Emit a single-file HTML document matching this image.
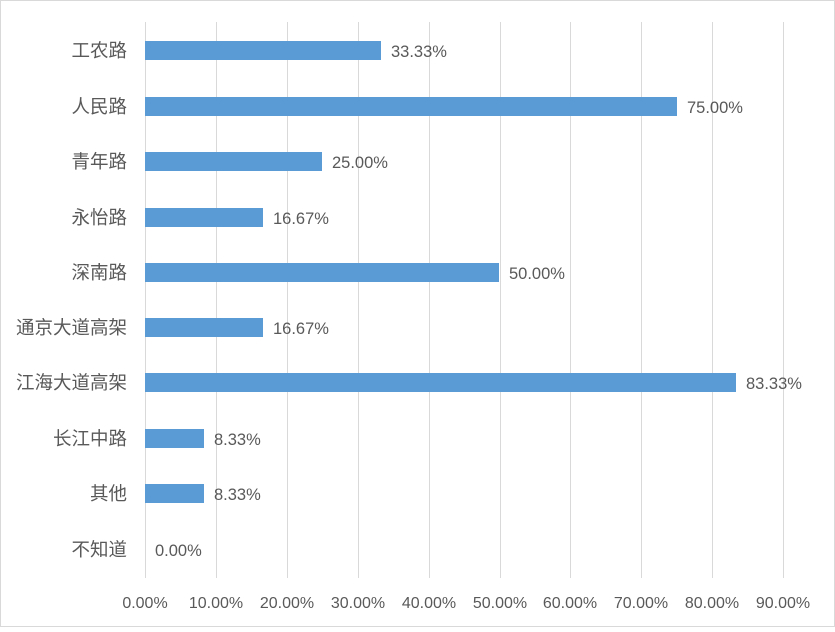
<!DOCTYPE html>
<html><head><meta charset="utf-8"><style>
body{margin:0;background:#fff;}
svg text{font-family:"Liberation Sans","Noto Sans CJK SC",sans-serif;fill:#595959;}
</style></head><body>
<svg width="835" height="627" xmlns="http://www.w3.org/2000/svg">
<rect x="0.5" y="0.5" width="834" height="626" fill="#fff" stroke="#d9d9d9"/>
<g stroke="#d9d9d9" stroke-width="1">
<line x1="145.5" y1="22" x2="145.5" y2="578"/>
<line x1="216.5" y1="22" x2="216.5" y2="578"/>
<line x1="287.5" y1="22" x2="287.5" y2="578"/>
<line x1="358.5" y1="22" x2="358.5" y2="578"/>
<line x1="429.5" y1="22" x2="429.5" y2="578"/>
<line x1="500.5" y1="22" x2="500.5" y2="578"/>
<line x1="570.5" y1="22" x2="570.5" y2="578"/>
<line x1="641.5" y1="22" x2="641.5" y2="578"/>
<line x1="712.5" y1="22" x2="712.5" y2="578"/>
<line x1="783.5" y1="22" x2="783.5" y2="578"/>
</g>
<g fill="#5b9bd5">
<rect x="145" y="41" width="236" height="19"/>
<rect x="145" y="97" width="532" height="19"/>
<rect x="145" y="152" width="177" height="19"/>
<rect x="145" y="208" width="118" height="19"/>
<rect x="145" y="263" width="354" height="19"/>
<rect x="145" y="318" width="118" height="19"/>
<rect x="145" y="373" width="591" height="19"/>
<rect x="145" y="429" width="59" height="19"/>
<rect x="145" y="484" width="59" height="19"/>
</g>
<g font-size="16.5">
<text x="391" y="57">33.33%</text>
<text x="687" y="113">75.00%</text>
<text x="332" y="168">25.00%</text>
<text x="273" y="224">16.67%</text>
<text x="509" y="279">50.00%</text>
<text x="273" y="334">16.67%</text>
<text x="746" y="389">83.33%</text>
<text x="214" y="445">8.33%</text>
<text x="214" y="500">8.33%</text>
<text x="155" y="556">0.00%</text>
</g>
<g font-size="18.5" text-anchor="end">
<text x="127" y="57">工农路</text>
<text x="127" y="113">人民路</text>
<text x="127" y="168">青年路</text>
<text x="127" y="224">永怡路</text>
<text x="127" y="279">深南路</text>
<text x="127" y="334">通京大道高架</text>
<text x="127" y="389">江海大道高架</text>
<text x="127" y="445">长江中路</text>
<text x="127" y="500">其他</text>
<text x="127" y="556">不知道</text>
</g>
<g font-size="16" text-anchor="middle">
<text x="145" y="608">0.00%</text>
<text x="216" y="608">10.00%</text>
<text x="287" y="608">20.00%</text>
<text x="358" y="608">30.00%</text>
<text x="429" y="608">40.00%</text>
<text x="500" y="608">50.00%</text>
<text x="570" y="608">60.00%</text>
<text x="641" y="608">70.00%</text>
<text x="712" y="608">80.00%</text>
<text x="783" y="608">90.00%</text>
</g>
</svg>
</body></html>
